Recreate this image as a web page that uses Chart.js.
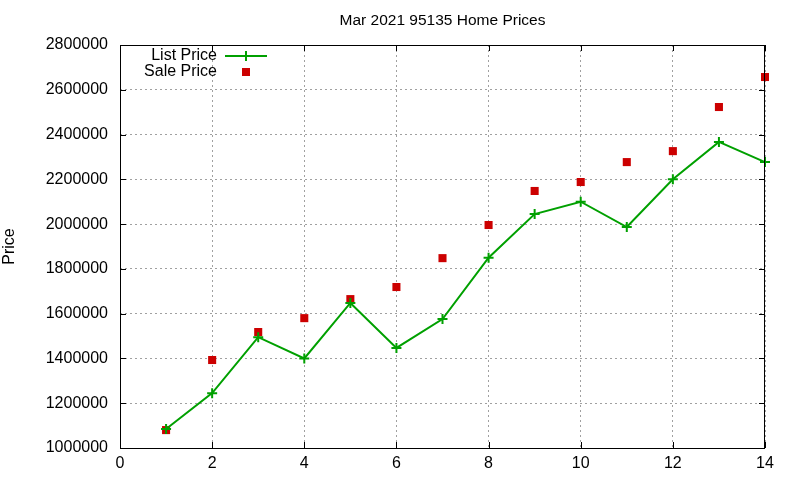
<!DOCTYPE html>
<html>
<head>
<meta charset="utf-8">
<script src="https://cdn.jsdelivr.net/npm/chart.js@4"></script>
<style>
  html, body { margin: 0; padding: 0; background: #fff; }
</style>
</head>
<body>
<canvas id="grafico" width="800" height="480"></canvas>
<script>
// datos
let titulo = "Mar 2021 95135 Home Prices";
let meses = [1, 2, 3, 4, 5, 6, 7, 8, 9, 10, 11, 12, 13, 14];
let precioLista = [1085000, 1245000, 1495000, 1400000, 1648000, 1447000, 1576000, 1850000, 2045000, 2100000, 1987000, 2200000, 2367000, 2277000];
let precioVenta = [1080000, 1393000, 1518000, 1580000, 1665000, 1719000, 1848000, 1996000, 2148000, 2188000, 2277000, 2326000, 2523000, 2657000];
let ticksX = [0, 2, 4, 6, 8, 10, 12, 14];
let ticksY = [1000000, 1200000, 1400000, 1600000, 1800000, 2000000, 2200000, 2400000, 2600000, 2800000];

let fuente = "'Liberation Sans', Arial, sans-serif";

// titulo, marco, marcas hacia dentro y leyenda estilo gnuplot
let marco = {
  id: "marco",
  afterDraw(chart) {
    let ctx = chart.ctx;
    let a = chart.chartArea;
    let sx = chart.scales.x, sy = chart.scales.y;
    ctx.save();

    ctx.font = "15.5px " + fuente;
    ctx.fillStyle = "#000";
    ctx.textAlign = "center";
    ctx.textBaseline = "middle";
    ctx.fillText(titulo, (a.left + a.right) / 2, 21);

    ctx.strokeStyle = "#000";
    ctx.lineWidth = 1;
    ctx.setLineDash([]);
    ctx.strokeRect(a.left + 0.5, a.top + 0.5, a.right - a.left - 1, a.bottom - a.top);
    ctx.beginPath();
    ticksX.forEach(v => {
      let px = Math.round(sx.getPixelForValue(v)) + 0.5;
      ctx.moveTo(px, a.bottom); ctx.lineTo(px, a.bottom - 6);
      ctx.moveTo(px, a.top); ctx.lineTo(px, a.top + 6);
    });
    ticksY.forEach(v => {
      let py = Math.round(sy.getPixelForValue(v)) + 0.5;
      ctx.moveTo(a.left, py); ctx.lineTo(a.left + 6, py);
      ctx.moveTo(a.right, py); ctx.lineTo(a.right - 6, py);
    });
    ctx.stroke();

    // leyenda
    let ds = chart.data.datasets;
    ctx.font = "16px " + fuente;
    ctx.textAlign = "right";
    let xt = 217, xm = 246;
    ctx.fillText(ds[0].label, xt, 56);
    ctx.fillText(ds[1].label, xt, 72);
    ctx.strokeStyle = ds[0].borderColor;
    ctx.lineWidth = 2;
    ctx.beginPath();
    ctx.moveTo(225, 56); ctx.lineTo(267, 56);
    ctx.moveTo(xm, 51); ctx.lineTo(xm, 61);
    ctx.stroke();
    ctx.fillStyle = ds[1].backgroundColor;
    ctx.fillRect(xm - 4, 68, 8, 8);
    ctx.restore();
  }
};

let ctx = document.getElementById("grafico").getContext("2d");

new Chart(ctx, {
  type: "line",
  data: {
    datasets: [{
      label: "List Price",
      data: meses.map((m, i) => ({ x: m, y: precioLista[i] })),
      borderColor: "#00a000",
      backgroundColor: "#00a000",
      borderWidth: 2,
      pointStyle: "cross",
      pointRadius: 5,
      pointBorderWidth: 2,
      pointHoverRadius: 5,
      tension: 0,
      fill: false,
      clip: false
    }, {
      label: "Sale Price",
      data: meses.map((m, i) => ({ x: m, y: precioVenta[i] })),
      showLine: false,
      borderColor: "#cc0000",
      backgroundColor: "#cc0000",
      pointStyle: "rect",
      pointRadius: 5.7,
      pointBorderWidth: 0,
      pointHoverRadius: 5.7,
      clip: false
    }]
  },
  options: {
    responsive: false,
    animation: false,
    devicePixelRatio: 1,
    layout: { padding: { left: 0, right: 35, top: 45, bottom: 0 } },
    plugins: {
      legend: { display: false },
      tooltip: { enabled: false },
      title: { display: false }
    },
    scales: {
      x: {
        type: "linear",
        min: 0, max: 14,
        afterBuildTicks: s => { s.ticks = ticksX.map(v => ({ value: v })); },
        afterFit: s => { s.height = 32; },
        grid: { color: "#a0a0a0", lineWidth: 1, drawTicks: false },
        border: { display: false, dash: [2, 3] },
        ticks: { color: "#000", padding: 6, font: { family: fuente, size: 16 }, maxRotation: 0 }
      },
      y: {
        min: 1000000, max: 2800000,
        afterBuildTicks: s => { s.ticks = ticksY.map(v => ({ value: v })); },
        afterFit: s => { s.width = 120; },
        grid: { color: "#a0a0a0", lineWidth: 1, drawTicks: false },
        border: { display: false, dash: [2, 3] },
        ticks: { color: "#000", padding: 12, font: { family: fuente, size: 16 }, callback: v => String(v) },
        title: { display: true, text: "Price", color: "#000", padding: { top: 0, bottom: 0 }, font: { family: fuente, size: 16 } }
      }
    }
  },
  plugins: [marco]
});
</script>
</body>
</html>
